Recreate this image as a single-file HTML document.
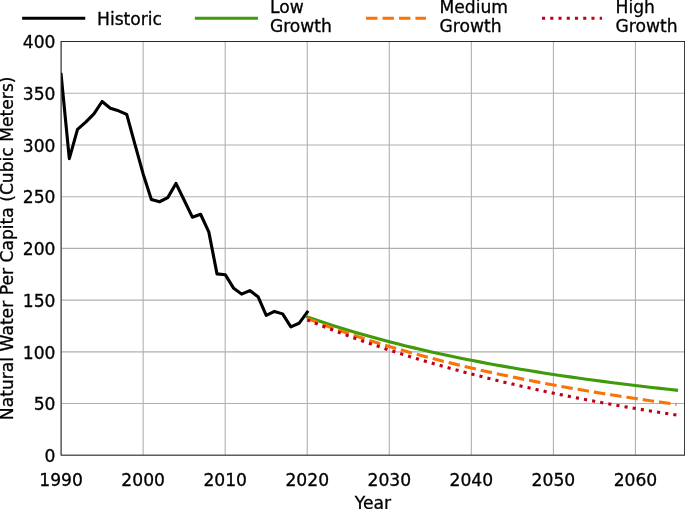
<!DOCTYPE html>
<html><head><meta charset="utf-8"><title>Natural Water Per Capita</title>
<style>html,body{margin:0;padding:0;background:#fff}body{width:685px;height:509px;overflow:hidden}text{fill:#000;stroke:#000;stroke-width:0.3px}</style>
</head><body>
<svg width="685" height="509" viewBox="0 0 685 509" style="display:block;font-family:'DejaVu Sans','Liberation Sans',sans-serif;font-size:17.15px">
<rect width="685" height="509" fill="#fff"/>
<line x1="61.10" x2="61.10" y1="41.5" y2="455.15" stroke="#b0b0b0" stroke-width="1.1"/>
<line x1="143.15" x2="143.15" y1="41.5" y2="455.15" stroke="#b0b0b0" stroke-width="1.1"/>
<line x1="225.20" x2="225.20" y1="41.5" y2="455.15" stroke="#b0b0b0" stroke-width="1.1"/>
<line x1="307.25" x2="307.25" y1="41.5" y2="455.15" stroke="#b0b0b0" stroke-width="1.1"/>
<line x1="389.30" x2="389.30" y1="41.5" y2="455.15" stroke="#b0b0b0" stroke-width="1.1"/>
<line x1="471.35" x2="471.35" y1="41.5" y2="455.15" stroke="#b0b0b0" stroke-width="1.1"/>
<line x1="553.40" x2="553.40" y1="41.5" y2="455.15" stroke="#b0b0b0" stroke-width="1.1"/>
<line x1="635.45" x2="635.45" y1="41.5" y2="455.15" stroke="#b0b0b0" stroke-width="1.1"/>
<line x1="61.1" x2="684.6" y1="455.30" y2="455.30" stroke="#b0b0b0" stroke-width="1.1"/>
<line x1="61.1" x2="684.6" y1="403.57" y2="403.57" stroke="#b0b0b0" stroke-width="1.1"/>
<line x1="61.1" x2="684.6" y1="351.85" y2="351.85" stroke="#b0b0b0" stroke-width="1.1"/>
<line x1="61.1" x2="684.6" y1="300.12" y2="300.12" stroke="#b0b0b0" stroke-width="1.1"/>
<line x1="61.1" x2="684.6" y1="248.40" y2="248.40" stroke="#b0b0b0" stroke-width="1.1"/>
<line x1="61.1" x2="684.6" y1="196.68" y2="196.68" stroke="#b0b0b0" stroke-width="1.1"/>
<line x1="61.1" x2="684.6" y1="144.95" y2="144.95" stroke="#b0b0b0" stroke-width="1.1"/>
<line x1="61.1" x2="684.6" y1="93.23" y2="93.23" stroke="#b0b0b0" stroke-width="1.1"/>
<line x1="61.1" x2="684.6" y1="41.50" y2="41.50" stroke="#b0b0b0" stroke-width="1.1"/>
<clipPath id="c"><rect x="61.1" y="41.5" width="623.5" height="413.65"/></clipPath>
<g clip-path="url(#c)" fill="none" stroke-width="3.108" stroke-linejoin="round">
<path d="M61.10,74.40 L69.31,158.61 L77.51,129.43 L85.72,122.19 L93.92,113.92 L102.12,101.50 L110.33,108.23 L118.53,110.81 L126.74,114.43 L134.94,144.33 L143.15,173.92 L151.35,199.47 L159.56,201.74 L167.77,197.61 L175.97,183.43 L184.18,200.30 L192.38,217.16 L200.59,214.26 L208.79,231.85 L217.00,273.85 L225.20,274.68 L233.41,287.92 L241.61,294.12 L249.81,290.61 L258.02,296.71 L266.23,315.33 L274.43,311.40 L282.63,313.88 L290.84,326.82 L299.05,323.30 L307.25,312.13" stroke="#000" stroke-linecap="square"/>
<path d="M307.25,316.88 L315.45,319.73 L323.66,322.48 L331.87,325.16 L340.07,327.75 L348.28,330.26 L356.48,332.70 L364.69,335.06 L372.89,337.36 L381.10,339.59 L389.30,341.75 L397.51,343.85 L405.71,345.89 L413.92,347.87 L422.12,349.80 L430.33,351.67 L438.53,353.49 L446.74,355.26 L454.94,356.99 L463.15,358.66 L471.35,360.29 L479.56,361.88 L487.76,363.43 L495.97,364.93 L504.17,366.40 L512.38,367.83 L520.58,369.22 L528.78,370.58 L536.99,371.90 L545.20,373.20 L553.40,374.46 L561.61,375.68 L569.81,376.88 L578.01,378.06 L586.22,379.20 L594.43,380.32 L602.63,381.41 L610.84,382.47 L619.04,383.51 L627.25,384.53 L635.45,385.53 L643.65,386.50 L651.86,387.46 L660.07,388.39 L668.27,389.30 L676.48,390.20" stroke="#3f9b0b" stroke-linecap="square"/>
<path d="M307.25,318.46 L315.45,321.63 L323.66,324.71 L331.87,327.70 L340.07,330.61 L348.28,333.44 L356.48,336.19 L364.69,338.87 L372.89,341.48 L381.10,344.02 L389.30,346.49 L397.51,348.90 L405.71,351.24 L413.92,353.53 L422.12,355.76 L430.33,357.93 L438.53,360.05 L446.74,362.12 L454.94,364.13 L463.15,366.10 L471.35,368.02 L479.56,369.90 L487.76,371.73 L495.97,373.52 L504.17,375.27 L512.38,376.97 L520.58,378.64 L528.78,380.27 L536.99,381.87 L545.20,383.43 L553.40,384.96 L561.61,386.45 L569.81,387.91 L578.01,389.34 L586.22,390.74 L594.43,392.11 L602.63,393.45 L610.84,394.76 L619.04,396.05 L627.25,397.31 L635.45,398.54 L643.65,399.75 L651.86,400.94 L660.07,402.10 L668.27,403.24 L676.48,404.36" stroke="#f97306" stroke-dasharray="11.50 4.97"/>
<path d="M307.25,319.88 L315.45,323.22 L323.66,326.49 L331.87,329.68 L340.07,332.79 L348.28,335.84 L356.48,338.81 L364.69,341.71 L372.89,344.55 L381.10,347.32 L389.30,350.03 L397.51,352.67 L405.71,355.26 L413.92,357.79 L422.12,360.27 L430.33,362.68 L438.53,365.05 L446.74,367.36 L454.94,369.62 L463.15,371.83 L471.35,373.99 L479.56,376.11 L487.76,378.17 L495.97,380.20 L504.17,382.18 L512.38,384.11 L520.58,386.00 L528.78,387.85 L536.99,389.67 L545.20,391.44 L553.40,393.17 L561.61,394.86 L569.81,396.52 L578.01,398.14 L586.22,399.73 L594.43,401.27 L602.63,402.79 L610.84,404.27 L619.04,405.72 L627.25,407.14 L635.45,408.52 L643.65,409.88 L651.86,411.20 L660.07,412.49 L668.27,413.76 L676.48,414.99" stroke="#be0119" stroke-dasharray="3.11 5.13"/>
</g>
<rect x="61.1" y="41.5" width="623.5" height="413.65" fill="none" stroke="#1a1a1a" stroke-width="0.9"/>
<text x="61.10" y="485.9" text-anchor="middle">1990</text>
<text x="143.15" y="485.9" text-anchor="middle">2000</text>
<text x="225.20" y="485.9" text-anchor="middle">2010</text>
<text x="307.25" y="485.9" text-anchor="middle">2020</text>
<text x="389.30" y="485.9" text-anchor="middle">2030</text>
<text x="471.35" y="485.9" text-anchor="middle">2040</text>
<text x="553.40" y="485.9" text-anchor="middle">2050</text>
<text x="635.45" y="485.9" text-anchor="middle">2060</text>
<text x="55.5" y="461.95" text-anchor="end">0</text>
<text x="55.5" y="410.22" text-anchor="end">50</text>
<text x="55.5" y="358.50" text-anchor="end">100</text>
<text x="55.5" y="306.77" text-anchor="end">150</text>
<text x="55.5" y="255.05" text-anchor="end">200</text>
<text x="55.5" y="203.33" text-anchor="end">250</text>
<text x="55.5" y="151.60" text-anchor="end">300</text>
<text x="55.5" y="99.88" text-anchor="end">350</text>
<text x="55.5" y="48.15" text-anchor="end">400</text>
<text x="372.85" y="509.1" text-anchor="middle">Year</text>
<text transform="translate(12.8,248.32) rotate(-90)" text-anchor="middle">Natural Water Per Capita (Cubic Meters)</text>
<line x1="23.7" x2="83.7" y1="18.2" y2="18.2" stroke="#000" stroke-width="3.108" stroke-linecap="square"/>
<text x="97" y="24.9">Historic</text>
<line x1="196.4" x2="256.4" y1="18.2" y2="18.2" stroke="#3f9b0b" stroke-width="3.108" stroke-linecap="square"/>
<text x="269.9" y="13.4">Low</text>
<text x="269.9" y="32.3">Growth</text>
<line x1="366" x2="426" y1="18.2" y2="18.2" stroke="#f97306" stroke-width="3.108" stroke-dasharray="11.50 4.97"/>
<text x="439.5" y="13.4">Medium</text>
<text x="439.5" y="32.3">Growth</text>
<line x1="542" x2="602" y1="18.2" y2="18.2" stroke="#be0119" stroke-width="3.108" stroke-dasharray="3.11 5.13"/>
<text x="615.5" y="13.4">High</text>
<text x="615.5" y="32.3">Growth</text>
</svg>
</body></html>
